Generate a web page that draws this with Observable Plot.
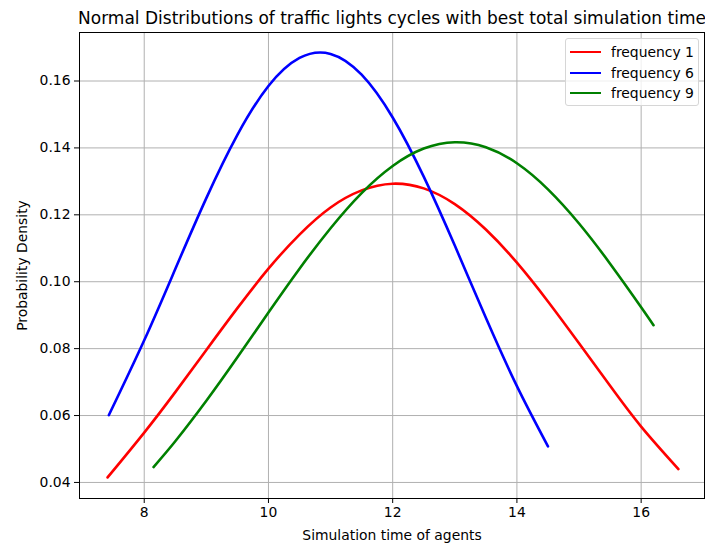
<!DOCTYPE html>
<html>
<head>
<meta charset="utf-8">
<script src="https://cdn.jsdelivr.net/npm/d3@7"></script>
<script src="https://cdn.jsdelivr.net/npm/@observablehq/plot@0.6"></script>
<style>
  html, body { margin: 0; padding: 0; background: white; }
  #wrap { position: relative; width: 705px; height: 545px; font-family: "DejaVu Sans", sans-serif; }
  #legend { position: absolute; left: 565px; top: 38px; width: 132px; height: 66px;
    border: 1px solid #d6d6d6; border-radius: 3px; background: rgba(255,255,255,0.8); }
  .row { position: absolute; left: 0; height: 20px; display: flex; align-items: center; font-family: "DejaVu Sans", sans-serif; font-size: 13.9px; color: #000; white-space: nowrap; }
  .sw { width: 31px; height: 0; border-top: 2.5px solid; margin-left: 4px; margin-right: 10px; }
</style>
</head>
<body>
<div id="wrap"><div id="legend"></div></div>
<script>
const title = "Normal Distributions of traffic lights cycles with best total simulation time";
const xLabel = "Simulation time of agents";
const yLabel = "Probability Density";
const seriesNames = ["frequency 1", "frequency 6", "frequency 9"];
const seriesColors = ["red", "blue", "green"];
const xTicks = [8, 10, 12, 14, 16];
const yTicks = [0.04, 0.06, 0.08, 0.10, 0.12, 0.14, 0.16];

// frequency 1 (red)
const f1X = [7.41, 8.0, 8.5, 9.0, 9.5, 10.0, 10.5, 11.0, 11.5, 12.0, 12.5, 13.0, 13.5, 14.0, 14.5, 15.0, 15.5, 16.0, 16.6];
const f1Y = [0.0415, 0.0549, 0.0670, 0.0796, 0.0921, 0.1039, 0.1141, 0.1222, 0.1273, 0.1293, 0.1279, 0.1232, 0.1156, 0.1057, 0.0941, 0.0816, 0.0689, 0.0567, 0.0440];
// frequency 6 (blue)
const f6X = [7.43, 8.0, 8.5, 9.0, 9.5, 10.0, 10.5, 11.0, 11.5, 12.0, 12.5, 13.0, 13.5, 14.0, 14.5];
const f6Y = [0.0601, 0.0825, 0.1038, 0.1250, 0.1439, 0.1585, 0.1669, 0.1681, 0.1619, 0.1491, 0.1314, 0.1108, 0.0892, 0.0688, 0.0508];
// frequency 9 (green)
const f9X = [8.15, 8.5, 9.0, 9.5, 10.0, 10.5, 11.0, 11.5, 12.0, 12.5, 13.0, 13.5, 14.0, 14.5, 15.0, 15.5, 16.0, 16.2];
const f9Y = [0.0446, 0.0523, 0.0644, 0.0774, 0.0908, 0.1039, 0.1160, 0.1265, 0.1346, 0.1398, 0.1417, 0.1402, 0.1354, 0.1276, 0.1174, 0.1054, 0.0924, 0.0870];

const seriesX = [f1X, f6X, f9X];
const seriesY = [f1Y, f6Y, f9Y];
const data = [];
seriesNames.forEach((name, i) => {
  seriesX[i].forEach((x, j) => data.push({series: name, x, y: seriesY[i][j]}));
});

const chart = Plot.plot({
  width: 705,
  height: 545,
  marginLeft: 79,
  marginRight: 1,
  marginTop: 32,
  marginBottom: 47,
  style: {fontFamily: "DejaVu Sans, sans-serif", fontSize: "13.9px", background: "white", color: "black", overflow: "visible"},
  x: {domain: [6.958, 17.02]},
  y: {domain: [0.0352, 0.1745]},
  color: {domain: seriesNames, range: seriesColors},
  marks: [
    Plot.gridX(xTicks, {stroke: "#b0b0b0", strokeOpacity: 1, strokeWidth: 1}),
    Plot.gridY(yTicks, {stroke: "#b0b0b0", strokeOpacity: 1, strokeWidth: 1}),
    Plot.line(data, {x: "x", y: "y", z: "series", stroke: "series", strokeWidth: 2.6, curve: "natural"}),
    Plot.frame({stroke: "black", strokeWidth: 1}),
    Plot.axisX(xTicks, {tickSize: 5, tickPadding: 4, label: null, fontSize: 13.9, tickFormat: d => String(d)}),
    Plot.axisY(yTicks, {tickSize: 5, tickPadding: 4, label: null, fontSize: 13.9, tickFormat: d => d.toFixed(2)}),
    Plot.text([title], {frameAnchor: "top", dy: -14, lineAnchor: "middle", textAnchor: "middle", fontSize: 17, text: d => d}),
    Plot.text([xLabel], {frameAnchor: "bottom", dy: 37, lineAnchor: "middle", textAnchor: "middle", fontSize: 13.9, text: d => d}),
    Plot.text([yLabel], {frameAnchor: "left", dx: -57, rotate: -90, lineAnchor: "middle", textAnchor: "middle", fontSize: 13.9, text: d => d})
  ]
});
document.getElementById("wrap").prepend(chart);

const legend = document.getElementById("legend");
seriesNames.forEach((name, i) => {
  const row = document.createElement("div");
  row.className = "row";
  row.style.top = (3 + i * 20.6) + "px";
  const sw = document.createElement("div");
  sw.className = "sw";
  sw.style.borderTopColor = seriesColors[i];
  const t = document.createElement("span");
  t.textContent = name;
  row.appendChild(sw);
  row.appendChild(t);
  legend.appendChild(row);
});
</script>
</body>
</html>
